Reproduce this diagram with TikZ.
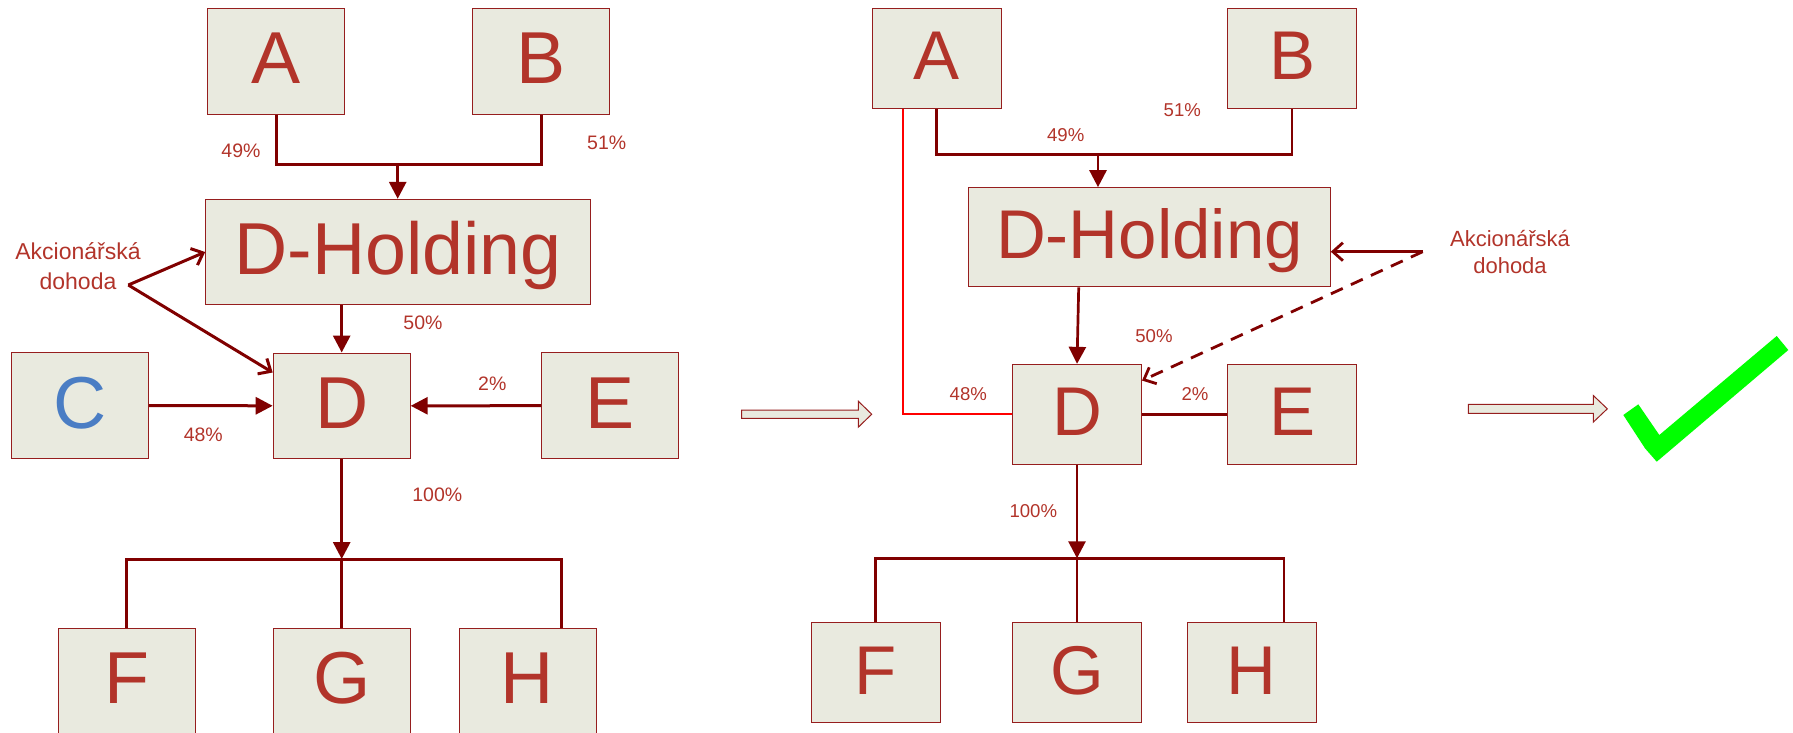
\documentclass[tikz,border=0pt]{standalone}
\usepackage{fontspec}
\setmainfont{Liberation Sans}
\usetikzlibrary{arrows.meta}
\definecolor{boxfill}{RGB}{233,234,223}
\definecolor{boxline}{RGB}{150,30,30}
\definecolor{txtred}{RGB}{178,52,42}
\definecolor{lnred}{RGB}{128,0,0}
\definecolor{cblue}{RGB}{74,125,196}
\definecolor{chkgreen}{RGB}{0,255,0}
\begin{document}
\begin{tikzpicture}[x=1pt,y=-1pt,
  box/.style={draw=boxline, fill=boxfill, line width=1pt, inner sep=0pt, text=txtred},
  boxL/.style={box, minimum width=137pt, minimum height=105.6pt, font=\fontsize{73.6}{80}\selectfont, text height=52.7pt, text depth=7.4pt},
  boxR/.style={box, minimum width=129pt, minimum height=99.7pt, font=\fontsize{69}{75}\selectfont, text height=49.4pt, text depth=6.9pt},
  pctL/.style={text=txtred, inner sep=0pt, font=\fontsize{19.5}{22}\selectfont},
  pctR/.style={text=txtred, inner sep=0pt, font=\fontsize{18.6}{21}\selectfont},
  conn/.style={draw=lnred, line width=3pt},
  connR/.style={draw=lnred, line width=2.7pt},
  tri/.style={-{Triangle[length=17pt,width=17pt]}},
  barb/.style={-{Straight Barb[length=10pt,width=18pt]}},
  hollow/.style={draw=boxline, fill=boxfill, line width=1pt},
  agree/.style={text=txtred, align=center, inner sep=0pt},
]
\useasboundingbox (0,0) rectangle (1793,732);
\clip (0,0) rectangle (1793,732);

% ---------- left diagram ----------
\node[boxL] (A) at (276,61.2) {A};
\node[boxL] (B) at (541.3,61.2) {B};
\node[boxL, minimum width=385pt, minimum height=105.4pt] (DH) at (398.2,252) {D-Holding};
\node[boxL, text=cblue] (C) at (79.8,405.5) {C};
\node[boxL] (D) at (341.7,405.8) {D};
\node[boxL] (E) at (610.2,405.7) {E};
\node[boxL] (F) at (126.8,681.1) {F};
\node[boxL] (G) at (341.7,681.1) {G};
\node[boxL] (H) at (527.5,681.1) {H};

\coordinate (busAB) at (397.7,164);
\draw[conn] (A.south) |- (busAB) -| (B.south);
\draw[conn, tri] (busAB) -- (busAB |- DH.north);
\draw[conn, tri] (D.north |- DH.south) -- (D.north);
\draw[conn, tri] (C.east) -- (D.west);
\draw[conn, tri] (E.west) -- (D.east);
\coordinate (busFGH) at (341.7,559);
\coordinate (Hs) at ([xshift=33.5pt]H.north);
\draw[conn] (F.north) |- (Hs |- busFGH) -- (Hs);
\draw[conn] (busFGH) -- (G.north);
\draw[conn, tri] (D.south) -- (busFGH);

\node[agree, font=\fontsize{23}{29.3}\selectfont] (ak) at (78,266) {Akcionářská\\dohoda};
\coordinate (akx) at (128.3,285);
\draw[conn, line width=3pt, barb] (akx) -- (DH.west);
\draw[conn, line width=3pt, barb] (akx) -- ([yshift=-20pt]D.north west);

\node[pctL] (p49) at (241,150.7) {49\%};
\node[pctL] (p51) at (606.7,142.7) {51\%};
\node[pctL] (p50) at (423,322.7) {50\%};
\node[pctL] (p48) at (203.3,434.3) {48\%};
\node[pctL] (p2) at (492.3,383.3) {2\%};
\node[pctL] (p100) at (437.3,494.3) {100\%};

% ---------- transition arrows ----------
\draw[hollow] (741.7,410) -- (858.3,410) -- (858.3,401.2) -- (871.7,414.2) -- (858.3,427.2) -- (858.3,418.3) -- (741.7,418.3) -- cycle;
\draw[hollow] (1468.3,404.3) -- (1593.3,404.3) -- (1593.3,395.5) -- (1607.3,408.8) -- (1593.3,422.1) -- (1593.3,413.3) -- (1468.3,413.3) -- cycle;

% ---------- right diagram ----------
\node[boxR] (A2) at (936.8,58.2) {A};
\node[boxR] (B2) at (1292,58.2) {B};
\node[boxR, minimum width=361.6pt, minimum height=99.3pt] (DH2) at (1149.5,237.3) {D-Holding};
\node[boxR] (D2) at (1077,414.2) {D};
\node[boxR] (E2) at (1292,414.2) {E};
\node[boxR] (F2) at (875.5,672.8) {F};
\node[boxR] (G2) at (1077,672.8) {G};
\node[boxR] (H2) at (1251.8,672.8) {H};

\coordinate (busAB2) at (1098,154.7);
\draw[connR] (A2.south) |- (busAB2) -| (B2.south);
\draw[connR, tri] (busAB2) -- (busAB2 |- DH2.north);
\coordinate (redA) at ([xshift=-33.5pt]A2.south);
\draw[draw=red, line width=2.2pt] (redA) |- (D2.west);
\coordinate (dhs2) at ([xshift=-70.8pt]DH2.south);
\draw[connR, tri] (dhs2) -- (D2.north);
\draw[connR] (D2.east) -- (E2.west);
\coordinate (bus2) at (1077,558.3);
\coordinate (H2s) at ([xshift=32.2pt]H2.north);
\draw[connR] (F2.north) |- (H2s |- bus2) -- (H2s);
\draw[connR] (bus2) -- (G2.north);
\draw[connR, tri] (D2.south) -- (bus2);

\coordinate (ak2) at (1422.7,251.7);
\draw[connR, line width=2.8pt, barb] (ak2) -- (ak2 -| DH2.east);
\draw[connR, line width=2.8pt, dash pattern=on 13pt off 9pt, barb] (ak2) -- ([yshift=-16.7pt]D2.north east);
\node[agree, font=\fontsize{22}{27.7}\selectfont] (akt2) at (1510,252) {Akcionářská\\dohoda};

\node[pctR] (q49) at (1065.7,135) {49\%};
\node[pctR] (q51) at (1182.3,110) {51\%};
\node[pctR] (q50) at (1154,336) {50\%};
\node[pctR] (q48) at (968.3,394) {48\%};
\node[pctR] (q2) at (1195,394) {2\%};
\node[pctR] (q100) at (1033.3,511) {100\%};

% ---------- check mark ----------
\fill[chkgreen] (1623.3,415) -- (1638.3,404.3) -- (1659.3,435) -- (1776.7,336) -- (1788.3,350) -- (1656.7,461.7) -- (1645,448.3) -- cycle;
\end{tikzpicture}
\end{document}
